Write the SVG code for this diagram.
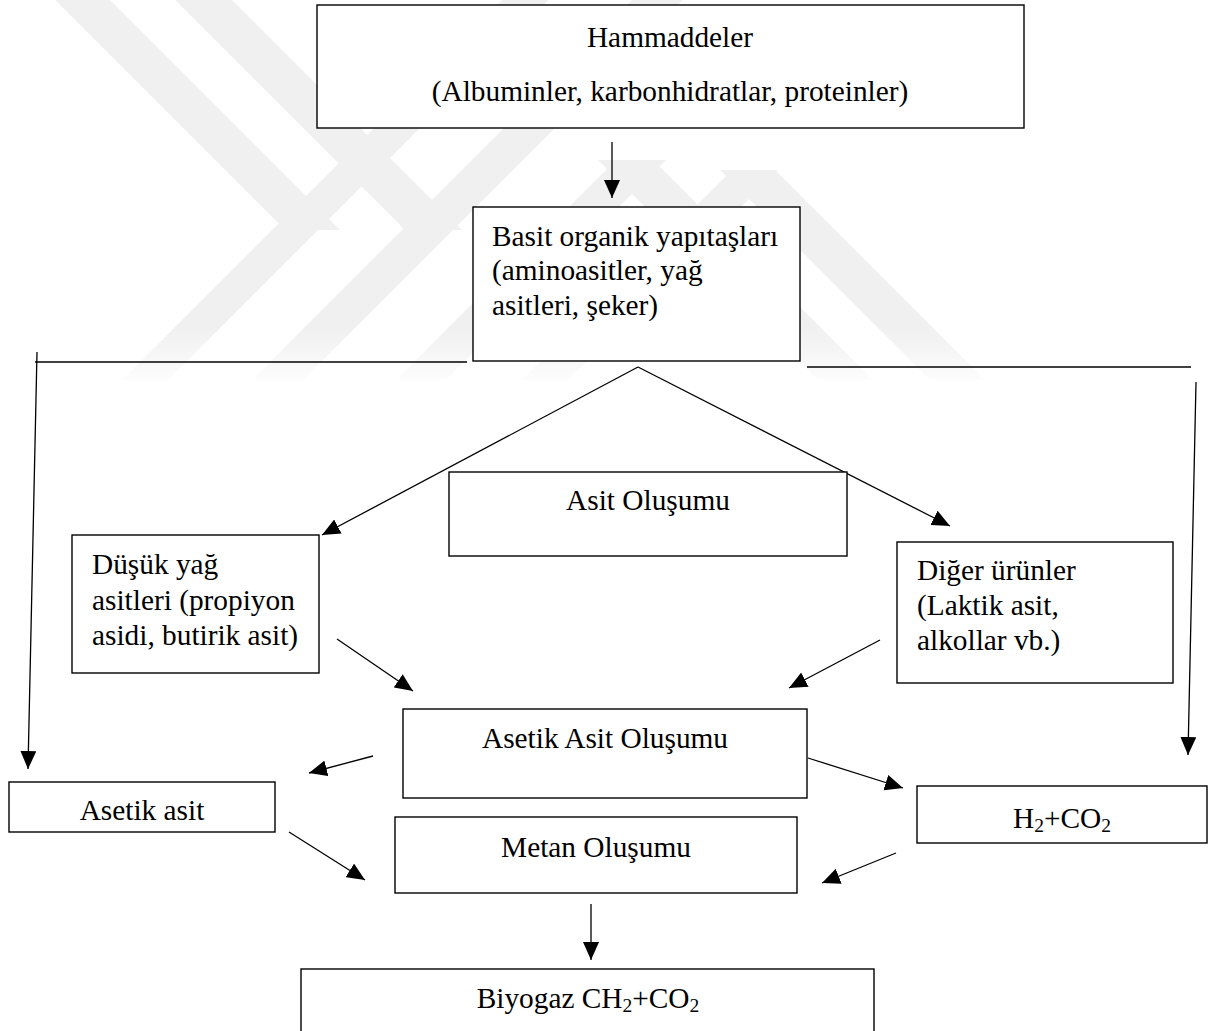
<svg xmlns="http://www.w3.org/2000/svg" width="1211" height="1031" viewBox="0 0 1211 1031">
<defs>
<style>
.box{fill:#fff;stroke:#000;stroke-width:1.4}
.t{font-family:"Liberation Serif","Times New Roman",serif;font-size:29.33px;fill:#000}
.c{text-anchor:middle}
.ln{stroke:#000;stroke-width:1.3;fill:none}
.ar{marker-end:url(#ah)}
.wm{fill:url(#fade)}
</style>
<linearGradient id="fade" gradientUnits="userSpaceOnUse" x1="0" y1="0" x2="0" y2="390">
<stop offset="0" stop-color="#f0f0f0"/>
<stop offset="0.84" stop-color="#f0f0f0"/>
<stop offset="1" stop-color="#ffffff"/>
</linearGradient>
<marker id="ah" markerUnits="userSpaceOnUse" markerWidth="18" markerHeight="16" viewBox="0 0 18 16" refX="18" refY="8" orient="auto">
<path d="M0,0 L18,8 L0,16 Z" fill="#000"/>
</marker>
</defs>
<rect width="1211" height="1031" fill="#fff"/>
<g id="watermark">
<polygon class="wm" points="55,0 110,0 340,230 285,230"/>
<polygon class="wm" points="502,0 548,0 168,380 122,380"/>
<polygon class="wm" points="175,0 232,0 462,230 405,230"/>
<polygon class="wm" points="632,0 683,0 303,380 252,380"/>
<polygon class="wm" points="616,160 666,160 446,380 396,380"/>
<polygon class="wm" points="598,160 653,160 873,380 818,380"/>
<polygon class="wm" points="732,170 778,170 568,380 522,380"/>
<polygon class="wm" points="720,170 775,170 985,380 930,380"/>
</g>
<g id="connectors">
<line class="ln ar" x1="612" y1="142" x2="612" y2="198"/>
<line class="ln" x1="35" y1="362" x2="467" y2="362"/>
<line class="ln" x1="807" y1="367" x2="1191" y2="367"/>
<line class="ln ar" x1="37" y1="352" x2="28" y2="769"/>
<line class="ln ar" x1="1196" y1="382" x2="1188" y2="755"/>
<line class="ln ar" x1="638" y1="367" x2="322" y2="535"/>
<line class="ln ar" x1="638" y1="367" x2="950" y2="526"/>
<line class="ln ar" x1="337" y1="639" x2="413" y2="691"/>
<line class="ln ar" x1="880" y1="640" x2="789" y2="688"/>
<line class="ln ar" x1="373" y1="756" x2="309" y2="773"/>
<line class="ln ar" x1="808" y1="758" x2="903" y2="788"/>
<line class="ln ar" x1="289" y1="832" x2="365" y2="880"/>
<line class="ln ar" x1="896" y1="853" x2="822" y2="883"/>
<line class="ln ar" x1="591" y1="904" x2="591" y2="960"/>
</g>
<g id="hammaddeler">
<rect class="box" x="317" y="5" width="707" height="123"/>
<text class="t c" x="670" y="47">Hammaddeler</text>
<text class="t c" x="670" y="101">(Albuminler, karbonhidratlar, proteinler)</text>
</g>
<g id="basit">
<rect class="box" x="473" y="207" width="327" height="154"/>
<text class="t" x="492" y="246">Basit organik yapıtaşları</text>
<text class="t" x="492" y="280">(aminoasitler, yağ</text>
<text class="t" x="492" y="315">asitleri, şeker)</text>
</g>
<g id="asit-olusumu">
<rect class="box" x="449" y="472" width="398" height="84"/>
<text class="t c" x="648" y="510">Asit Oluşumu</text>
</g>
<g id="dusuk">
<rect class="box" x="72" y="535" width="247" height="138"/>
<text class="t" x="92" y="574">Düşük yağ</text>
<text class="t" x="92" y="610">asitleri (propiyon</text>
<text class="t" x="92" y="645">asidi, butirik asit)</text>
</g>
<g id="diger">
<rect class="box" x="897" y="542" width="276" height="141"/>
<text class="t" x="917" y="580">Diğer ürünler</text>
<text class="t" x="917" y="615">(Laktik asit,</text>
<text class="t" x="917" y="650">alkollar vb.)</text>
</g>
<g id="asetik-asit-olusumu">
<rect class="box" x="403" y="709" width="404" height="89"/>
<text class="t c" x="605" y="748">Asetik Asit Oluşumu</text>
</g>
<g id="asetik-asit">
<rect class="box" x="9" y="782" width="266" height="50"/>
<text class="t c" x="142" y="820">Asetik asit</text>
</g>
<g id="h2co2">
<rect class="box" x="917" y="786" width="290" height="57"/>
<text class="t c" x="1062" y="828">H<tspan font-size="19.5" dy="4">2</tspan><tspan dy="-4">+CO</tspan><tspan font-size="19.5" dy="4">2</tspan></text>
</g>
<g id="metan">
<rect class="box" x="395" y="817" width="402" height="76"/>
<text class="t c" x="596" y="857">Metan Oluşumu</text>
</g>
<g id="biyogaz">
<rect class="box" x="301" y="969" width="573" height="80"/>
<text class="t c" x="588" y="1008">Biyogaz CH<tspan font-size="19.5" dy="4">2</tspan><tspan dy="-4">+CO</tspan><tspan font-size="19.5" dy="4">2</tspan></text>
</g>
</svg>
